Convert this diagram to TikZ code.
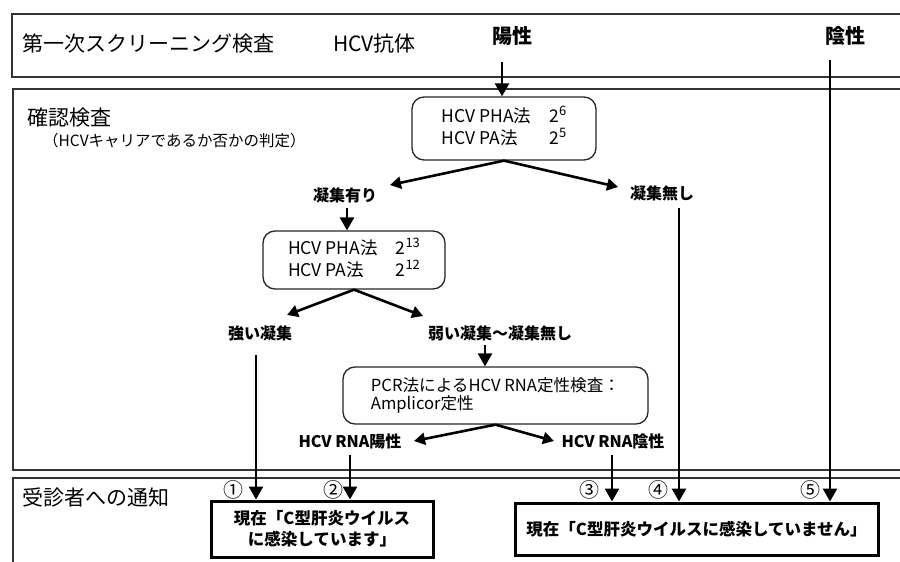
\documentclass[tikz,border=0pt]{standalone}
\usepackage{fontspec}
\setmainfont{Noto Sans CJK JP}
\usetikzlibrary{arrows.meta}
\newcommand{\supnum}[1]{\raisebox{0.75ex}{\fontsize{13}{13}\selectfont #1}}
\begin{document}
\begin{tikzpicture}[x=1pt,y=-1pt,
  sect/.style={draw=black!80, line width=1.3pt},
  rbox/.style={draw=black!85, line width=1.3pt, rounded corners=12pt, inner sep=0pt},
  obox/.style={draw=black, line width=3pt, inner sep=0pt, align=center, font=\fontsize{16.5}{21}\selectfont\bfseries},
  lbl/.style={inner sep=0pt, font=\fontsize{16}{16}\selectfont\bfseries},
  hdr/.style={inner sep=0pt, font=\fontsize{20}{20}\selectfont\bfseries},
  big/.style={inner sep=0pt, anchor=west, font=\fontsize{21}{21}\selectfont},
  num/.style={inner sep=0pt, font=\fontsize{20}{20}\selectfont},
  arr/.style={line width=2.6pt, -{Triangle[length=13pt,width=14pt]}},
  darr/.style={line width=2.6pt, -{Triangle[length=11pt,width=12pt]}},
  boxtxt/.style={font=\fontsize{17.5}{21}\selectfont},
]
\useasboundingbox (0,0) rectangle (900,562);
\fill[white] (0,0) rectangle (900,562);

% section frames (open to the right)
\draw[sect] (910,14) -- (12,14) -- (12,77) -- (910,77);
\draw[sect] (910,89) -- (13,89) -- (13,470) -- (910,470);
\draw[sect] (910,478) -- (13,478) -- (13,575);

% section titles
\node[big] (t1) at (22,44) {第一次スクリーニング検査};
\node[big] (hcvab) at (333,44) {HCV抗体};
\node[hdr] (pos) at (512,36) {陽性};
\node[hdr] (neg) at (845,36) {陰性};
\node[big] (kakunin) at (27,118) {確認検査};
\node[inner sep=0pt, anchor=west, font=\fontsize{15.5}{15.5}\selectfont] (hantei) at (43,141) {（HCVキャリアであるか否かの判定）};
\node[big] (tsuchi) at (22,497) {受診者への通知};

% test boxes
\node[rbox, minimum width=184pt, minimum height=63pt, boxtxt] (box1) at (504,128.5)
  {\begin{tabular}{@{}l@{\hspace{18pt}}l@{}}HCV PHA法 & 2\supnum{6}\\ HCV PA法 & 2\supnum{5}\end{tabular}};
\node[rbox, minimum width=182pt, minimum height=58pt, font=\fontsize{17.5}{19.5}\selectfont] (box2) at (354,260)
  {\begin{tabular}{@{}l@{\hspace{18pt}}l@{}}HCV PHA法 & 2\supnum{13}\\ HCV PA法 & 2\supnum{12}\end{tabular}};
\node[rbox, minimum width=305pt, minimum height=57pt, align=left, font=\fontsize{16.6}{17.5}\selectfont] (box3) at (495.5,395.5)
  {PCR法によるHCV RNA定性検査：\\Amplicor定性};

% labels
\node[lbl] (agg) at (345,195) {凝集有り};
\node[lbl] (noagg) at (662,193) {凝集無し};
\node[lbl] (strong) at (260,333) {強い凝集};
\node[lbl] (weak) at (500,333) {弱い凝集～凝集無し};
\node[lbl] (rnapos) at (350,441) {HCV RNA陽性};
\node[lbl] (rnaneg) at (613,441) {HCV RNA陰性};

% result boxes
\node[obox, minimum width=222pt, minimum height=56pt] (outA) at (322,529) {現在「C型肝炎ウイルス\\に感染しています」};
\node[obox, minimum width=363pt, minimum height=52pt] (outB) at (696.5,529) {現在「C型肝炎ウイルスに感染していません」};

% circled numbers
\node[num] (n1) at (233,490) {①};
\node[num] (n2) at (333,490) {②};
\node[num] (n3) at (589,490) {③};
\node[num] (n4) at (658,490) {④};
\node[num] (n5) at (810,490) {⑤};

% connector anchor points
\coordinate (posS) at (502,62);
\coordinate (negS) at (830,60);
\coordinate (aggTip) at (390,185);
\coordinate (noaggTip) at (618,187);
\coordinate (aggS) at (347,208);
\coordinate (noaggS) at (679,208);
\coordinate (strongTip) at (287,315);
\coordinate (weakTip) at (423,316);
\coordinate (strongS) at (256,355);
\coordinate (weakS) at (485,345);
\coordinate (rnaposTip) at (414,441);
\coordinate (rnanegTip) at (554,441);
\coordinate (rnaposS) at (350,455);
\coordinate (rnanegS) at (612,455);

% connectors
\draw[arr] (posS) -- (posS |- box1.north);
\draw[darr] (box1.south) -- (aggTip);
\draw[darr] (box1.south) -- (noaggTip);
\draw[arr] (aggS) -- (aggS |- box2.north);
\draw[darr] (box2.south) -- (strongTip);
\draw[darr] (box2.south) -- (weakTip);
\draw[arr] (weakS) -- (weakS |- box3.north);
\draw[darr] (box3.south) -- (rnaposTip);
\draw[darr] (box3.south) -- (rnanegTip);
\draw[arr] (strongS) -- (strongS |- outA.north);
\draw[arr] (rnaposS) -- (rnaposS |- outA.north);
\draw[arr] (rnanegS) -- (rnanegS |- outB.north);
\draw[arr] (noaggS) -- (noaggS |- outB.north);
\draw[arr] (negS) -- (negS |- outB.north);
\end{tikzpicture}
\end{document}
